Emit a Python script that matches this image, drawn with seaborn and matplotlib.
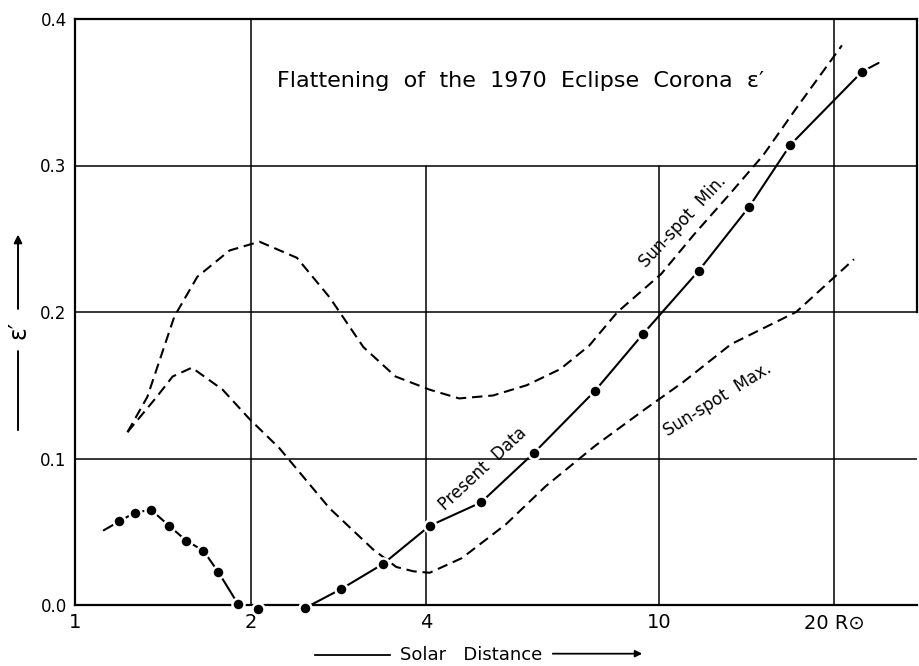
import matplotlib
matplotlib.use("Agg")
import matplotlib.pyplot as plt
import seaborn as sns
import pandas as pd

# ---- data ----
present_x = [1.19, 1.265, 1.35, 1.45, 1.55, 1.66, 1.76, 1.90, 2.06, 2.48, 2.86, 3.37, 4.05,
             4.96, 6.12, 7.77, 9.4, 11.7, 14.3, 16.8, 22.3]
present_y = [0.057, 0.063, 0.065, 0.054, 0.044, 0.037, 0.0225, 0.001, -0.003, -0.002, 0.011,
             0.028, 0.054, 0.070, 0.104, 0.146, 0.185, 0.228, 0.272, 0.314, 0.364]
present_lead_x = [1.12, 23.8]
present_lead_y = [0.051, 0.370]

min_x = [1.23, 1.33, 1.48, 1.62, 1.84, 2.07, 2.4, 2.73, 3.12, 3.54, 4.05, 4.55, 5.2, 5.94,
         6.78, 7.6, 8.5, 10.1, 11.5, 13.2, 15.1, 17.2, 20.6]
min_y = [0.118, 0.142, 0.197, 0.224, 0.242, 0.248, 0.237, 0.21, 0.176, 0.156, 0.147, 0.141,
         0.143, 0.150, 0.161, 0.177, 0.2, 0.226, 0.253, 0.28, 0.307, 0.339, 0.382]

max_x = [1.23, 1.38, 1.47, 1.586, 1.79, 1.99, 2.24, 2.73, 3.24, 3.55, 3.8, 4.05, 4.6, 5.47,
         6.4, 7.8, 9.5, 11.0, 13.3, 17.2, 21.6]
max_y = [0.118, 0.142, 0.156, 0.162, 0.147, 0.127, 0.107, 0.066, 0.038, 0.026, 0.023, 0.022,
         0.032, 0.055, 0.081, 0.109, 0.134, 0.152, 0.178, 0.2, 0.236]

x_ticks = [1, 2, 4, 10, 20]
x_ticklabels = ["1", "2", "4", "10", "20 R\u2299"]
y_ticks = [0.0, 0.1, 0.2, 0.3, 0.4]
y_ticklabels = ["0.0", "0.1", "0.2", "0.3", "0.4"]

title_text = "Flattening  of  the  1970  Eclipse  Corona  \u03b5\u2032"

# ---- style ----
sns.set_style("white")
plt.rcParams["font.family"] = ["DejaVu Sans"]
plt.rcParams["text.color"] = "black"
plt.rcParams["xtick.color"] = "black"
plt.rcParams["ytick.color"] = "black"
plt.rcParams["xtick.labelcolor"] = "black"
plt.rcParams["ytick.labelcolor"] = "black"

fig = plt.figure(figsize=(9.19, 6.66), dpi=100)
ax = fig.add_axes([75 / 919, 61 / 666, (917 - 75) / 919, (605 - 19) / 666])
ax.set_xscale("log")
ax.set_xlim(1, 27.7)
ax.set_ylim(0, 0.4)

# grid
for yv in [0.1, 0.2, 0.3]:
    ax.axhline(yv, color="black", lw=1.1, zorder=1)
ax.axvline(2, color="black", lw=1.1, zorder=1)
ax.axvline(20, color="black", lw=1.1, zorder=1)
ax.axvline(4, ymin=0, ymax=0.75, color="black", lw=1.1, zorder=1)
ax.axvline(10, ymin=0, ymax=0.75, color="black", lw=1.1, zorder=1)

dash = (0, (5, 2.8))
df_min = pd.DataFrame({"x": min_x, "y": min_y})
df_max = pd.DataFrame({"x": max_x, "y": max_y})
sns.lineplot(data=df_min, x="x", y="y", ax=ax, color="black", lw=1.5, linestyle=dash,
             sort=False, estimator=None, zorder=3)
sns.lineplot(data=df_max, x="x", y="y", ax=ax, color="black", lw=1.5, linestyle=dash,
             sort=False, estimator=None, zorder=3)

# present data line (with leading/trailing extension) then markers
line_x = [present_lead_x[0]] + present_x + [present_lead_x[1]]
line_y = [present_lead_y[0]] + present_y + [present_lead_y[1]]
df_line = pd.DataFrame({"x": line_x, "y": line_y})
sns.lineplot(data=df_line, x="x", y="y", ax=ax, color="black", lw=1.5, sort=False,
             estimator=None, zorder=4)
df_pts = pd.DataFrame({"x": present_x, "y": present_y})
sns.scatterplot(data=df_pts, x="x", y="y", ax=ax, color="black", s=75, edgecolor="white",
                linewidth=1.8, zorder=5, clip_on=False)

# spines
for side in ["left", "bottom", "top"]:
    ax.spines[side].set_visible(True)
    ax.spines[side].set_linewidth(1.6)
    ax.spines[side].set_color("black")
ax.spines["right"].set_linewidth(1.6)
ax.spines["right"].set_color("black")
ax.spines["right"].set_bounds(0.2, 0.4)

ax.set_xticks(x_ticks)
ax.set_xticklabels(x_ticklabels, fontsize=14)
ax.xaxis.set_minor_locator(matplotlib.ticker.NullLocator())
ax.set_yticks(y_ticks)
ax.set_yticklabels(y_ticklabels, fontsize=12)
ax.tick_params(axis="both", length=0)
ax.tick_params(axis="x", pad=6)
ax.tick_params(axis="y", pad=6)
ax.set_xlabel("")
ax.set_ylabel("")

# labels inside plot
ax.text(2.22, 0.358, title_text, fontsize=16, ha="left", va="center")
ax.text(5.0, 0.093, "Present  Data", fontsize=12, rotation=43, ha="center", va="center",
        rotation_mode="anchor")
ax.text(11.0, 0.262, "Sun-spot  Min.", fontsize=12, rotation=47, ha="center", va="center",
        rotation_mode="anchor")
ax.text(12.6, 0.140, "Sun-spot  Max.", fontsize=12, rotation=32, ha="center", va="center",
        rotation_mode="anchor")

# y axis label with arrow
fig.text(0.0196, 0.5045, "\u03b5\u2032", fontsize=17, rotation=90, ha="center", va="center")
ax.annotate("", xy=(0.0196, 0.652), xytext=(0.0196, 0.532), xycoords="figure fraction",
            textcoords="figure fraction",
            arrowprops=dict(arrowstyle="-|>", lw=1.4, color="black", mutation_scale=12))
ax.annotate("", xy=(0.0196, 0.350), xytext=(0.0196, 0.477), xycoords="figure fraction",
            textcoords="figure fraction",
            arrowprops=dict(arrowstyle="-", lw=1.4, color="black"))

# x axis label with arrow
fig.text(0.5125, 0.0165, "Solar   Distance", fontsize=13, ha="center", va="center")
ax.annotate("", xy=(312 / 919, 0.0165), xytext=(393 / 919, 0.0165), xycoords="figure fraction",
            textcoords="figure fraction",
            arrowprops=dict(arrowstyle="-", lw=1.3, color="black"))
ax.annotate("", xy=(645 / 919, 0.0185), xytext=(550 / 919, 0.0185), xycoords="figure fraction",
            textcoords="figure fraction",
            arrowprops=dict(arrowstyle="-|>", lw=1.3, color="black", mutation_scale=10))

fig.savefig("out.png", dpi=100)
